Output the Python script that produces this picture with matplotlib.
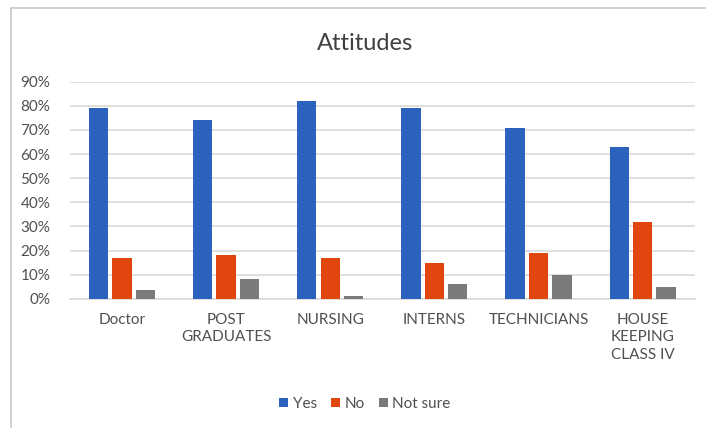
import numpy as np
import matplotlib.pyplot as plt
from matplotlib.patches import Rectangle

# values (percent)
groups = ['Doctor', 'POST\nGRADUATES', 'NURSING', 'INTERNS', 'TECHNICIANS',
          'HOUSE\nKEEPING\nCLASS IV']
yes = [79, 74, 82, 79, 71, 63]
no = [17, 18, 17, 15, 19, 32]
not_sure = [3.5, 8, 1, 6, 10, 5]
series_names = ['Yes', 'No', 'Not sure']
colors = ['#2a62bd', '#e2460f', '#7a7a7a']

plt.rcParams['font.family'] = ['Lato', 'DejaVu Sans']

fig = plt.figure(figsize=(7.06, 4.28), dpi=100)
ax = fig.add_axes([0.099, 0.302, 0.885, 0.507])

# chart border (only top/left visible in the picture)
fig.patches.append(Rectangle((11/706, -0.2), 1.2, 1 - 8/428 + 0.2,
                             transform=fig.transFigure, fill=False,
                             edgecolor='#c8c8c8', lw=1.2))

x = np.arange(len(groups))
w = 0.185
step = 0.225
for k, (vals, name, c) in enumerate(zip([yes, no, not_sure], series_names, colors)):
    ax.bar(x + (k - 1) * step, vals, w, color=c, label=name, zorder=3)

ax.set_xlim(-0.5, len(groups) - 0.5)
ax.set_ylim(0, 90)
ax.set_yticks(np.arange(0, 91, 10))
ax.set_yticklabels([f'{v}%' for v in range(0, 91, 10)])
ax.set_xticks(x)
ax.set_xticklabels(groups, linespacing=1.35, va='top')
ax.tick_params(axis='both', length=0, labelsize=11, colors='#505050')
ax.tick_params(axis='y', pad=14)
ax.tick_params(axis='x', pad=10)
ax.grid(axis='y', color='#d9d9d9', lw=1.2, zorder=0)
for s in ['top', 'right', 'left']:
    ax.spines[s].set_visible(False)
ax.spines['bottom'].set_color('#d9d9d9')
ax.spines['bottom'].set_linewidth(1.2)

fig.text(0.517, 1 - 44/428, 'Attitudes', ha='center', va='center',
         fontsize=17, color='#404040')

fig.legend(loc='center', bbox_to_anchor=(0.517, 1 - 404/428), ncol=3,
           frameon=False, fontsize=11, handlelength=0.6, handleheight=0.6,
           handletextpad=0.3, columnspacing=0.9, labelcolor='#505050')

fig.savefig('out.png', dpi=100)
